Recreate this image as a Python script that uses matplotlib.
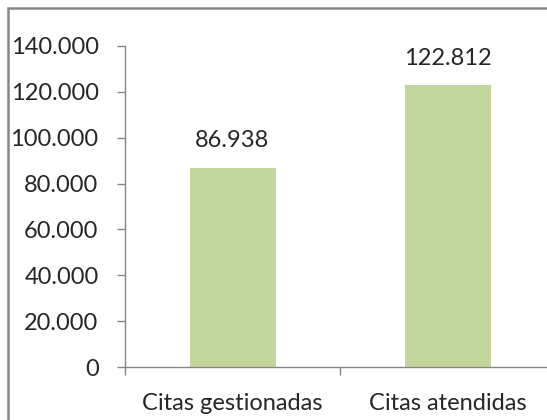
import matplotlib
matplotlib.use("Agg")
import matplotlib.pyplot as plt
from matplotlib.ticker import FuncFormatter, FixedLocator
from matplotlib.patches import Rectangle

plt.rcParams['font.family'] = ['Lato', 'DejaVu Sans']

categorias = ["Citas gestionadas", "Citas atendidas"]
valores = [86938, 122812]
y_ticks = [0, 20000, 40000, 60000, 80000, 100000, 120000, 140000]

BAR = "#C3D69B"
GRIS = "#868686"
TXT = "#262626"
FS = 17


def miles(v, pos=None):
    return f"{v:,.0f}".replace(",", ".")


W, H = 547, 420
fig = plt.figure(figsize=(W / 100, H / 100), dpi=100)
# ejes: x de 125 a 555 px, y de 46 a 367 px
ax = fig.add_axes([125 / W, (H - 367) / H, (555 - 125) / W, (367 - 46) / H])

x = list(range(len(categorias)))
ax.bar(x, valores, width=0.4, color=BAR, zorder=2)
for xi, v in zip(x, valores):
    ax.annotate(miles(v), (xi, v), xytext=(0, 12), textcoords="offset points",
                ha="center", va="bottom", fontsize=FS, color=TXT)

ax.set_xlim(-0.5, len(categorias) - 0.5)
ax.set_ylim(0, 140000)
ax.set_yticks(y_ticks)
ax.yaxis.set_major_formatter(FuncFormatter(miles))
ax.set_xticks(x)
ax.set_xticklabels(categorias)
ax.xaxis.set_minor_locator(FixedLocator([-0.5, 0.5, 1.5]))

for s in ["top", "right"]:
    ax.spines[s].set_visible(False)
for s in ["left", "bottom"]:
    ax.spines[s].set_color(GRIS)
    ax.spines[s].set_linewidth(1.0)

ax.tick_params(axis="y", length=6, width=1, color=GRIS, labelsize=FS,
               labelcolor=TXT, pad=13)
ax.tick_params(axis="x", which="major", length=0, labelsize=FS,
               labelcolor=TXT, pad=19)
ax.tick_params(axis="x", which="minor", length=6, width=1, color=GRIS)

# marco del gráfico
fig.patches.append(Rectangle((8 / W, -0.1), 1.2, (H - 8) / H + 0.1,
                             transform=fig.transFigure, fill=False,
                             edgecolor=GRIS, linewidth=1.8))

fig.savefig("out.png", dpi=100)
